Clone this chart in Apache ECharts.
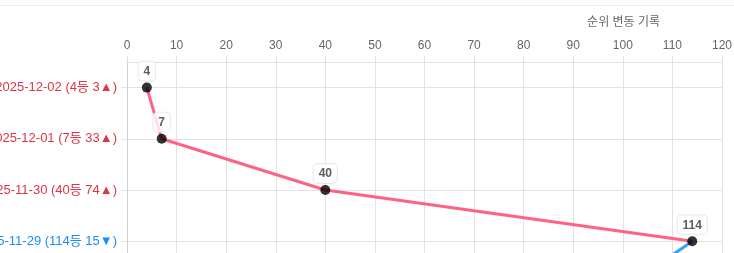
<!DOCTYPE html>
<html><head><meta charset="utf-8">
<script src="https://cdn.jsdelivr.net/npm/echarts@6/dist/echarts.min.js"></script>
<style>html,body{margin:0;padding:0;overflow:hidden;background:#fff}#c{width:734px;height:340px}</style>
</head><body><div id="c"></div>
<script>
const dates = ['2025-12-02','2025-12-01','2025-11-30','2025-11-29','2025-11-28'];
const ranks = [4, 7, 40, 114, 99];
const changes = ['3▲','33▲','74▲','15▼',''];
const dirs = ['up','up','up','down','up'];
const xTicks = {min:0, max:120, interval:10};
const colors = {up:'#ff6384', down:'#36a2eb'};
const labelColors = {up:'#dc3545', down:'#1a8cff'};
const FONT = "'Liberation Sans','Noto Sans CJK KR',sans-serif";

const chart = echarts.init(document.getElementById('c'));
const series = [];
for (let i = 0; i < ranks.length - 1; i++) {
  series.push({
    type:'line', silent:true, symbol:'none', z:2,
    lineStyle:{color:colors[dirs[i]], width:3},
    data:[[ranks[i], dates[i]],[ranks[i+1], dates[i+1]]]
  });
}
series.push({
  type:'scatter', z:5, symbolSize:10,
  itemStyle:{color:'#000'},
  data: ranks.map((r,i)=>[r, dates[i]]),
  label:{show:true, position:'top', distance:2, formatter:p=>String(p.value[0]),
    fontFamily:FONT, fontWeight:'bold', fontSize:12, color:'#333',
    backgroundColor:'#fff', borderColor:'#e4e4e4', borderWidth:1, borderRadius:4,
    padding:[4,5,3,5]}
});
chart.setOption({
  animation:false,
  textStyle:{fontFamily:FONT},
  title:{text:'순위 변동 기록', right:74, top:17, padding:0,
    textStyle:{fontSize:12, fontWeight:'normal', color:'#666', fontFamily:FONT}},
  graphic:[{type:'line', shape:{x1:0,y1:5.5,x2:734,y2:5.5}, style:{stroke:'#eeeeee', lineWidth:1}}],
  grid:{left:127, right:12, top:62, bottom:22, containLabel:false, outerBoundsMode:'none'},
  xAxis:{type:'value', position:'top', min:xTicks.min, max:xTicks.max, interval:xTicks.interval,
    axisLine:{show:true, lineStyle:{color:'#e2e2e2'}},
    axisTick:{show:true, length:6, lineStyle:{color:'#e2e2e2'}},
    axisLabel:{color:'#666', fontSize:12, margin:10, fontFamily:FONT},
    splitLine:{show:true, lineStyle:{color:'#e2e2e2'}}},
  yAxis:{type:'category', inverse:true, data:dates,
    axisLine:{show:true, lineStyle:{color:'#cfcfcf'}},
    axisTick:{show:true, alignWithLabel:true, length:6, lineStyle:{color:'#e2e2e2'}},
    splitLine:{show:true, alignWithLabel:true, lineStyle:{color:'#e2e2e2'}},
    axisLabel:{margin:10, fontSize:13, fontFamily:FONT,
      formatter:(v, i)=>{const d=dirs[i]; const t = v + ' (' + ranks[i] + '등' + (changes[i]?' '+changes[i]:'') + ')'; return '{'+d+'|'+t+'}';},
      rich:{up:{color:labelColors.up, fontSize:13, fontFamily:FONT}, down:{color:labelColors.down, fontSize:13, fontFamily:FONT}}}},
  series
});
</script></body></html>
